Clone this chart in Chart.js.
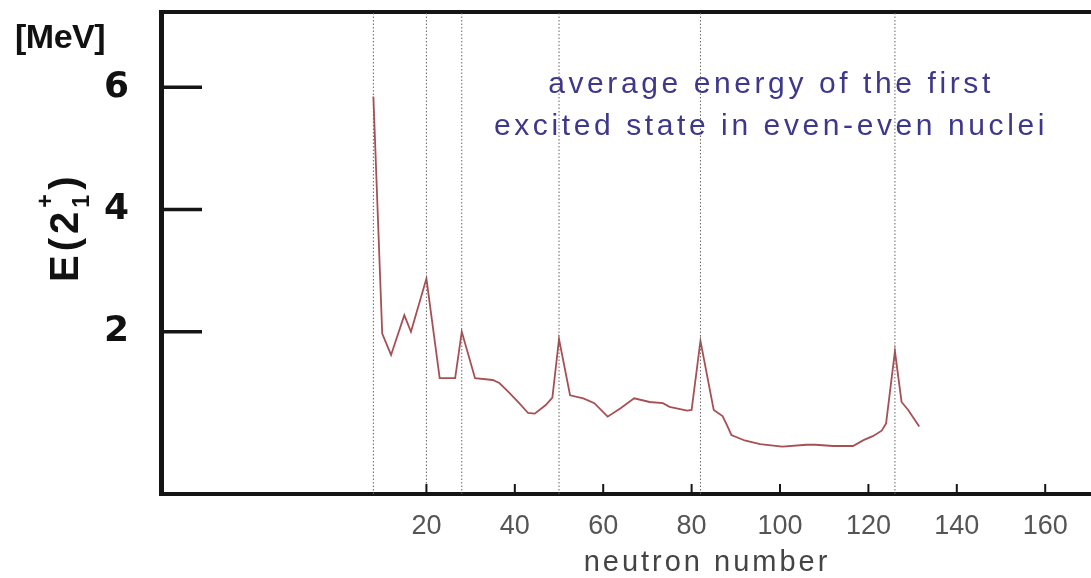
<!DOCTYPE html>
<html>
<head>
<meta charset="utf-8">
<script src="https://cdn.jsdelivr.net/npm/chart.js@4/dist/chart.umd.min.js"></script>
<style>
  body { margin: 0; background: #fff; overflow: hidden; }
  #wrap { position: relative; width: 1091px; height: 578px; }
  .txt { position: absolute; font-family: "Liberation Sans", Arial, sans-serif; white-space: nowrap; line-height: 1; }
  #mev { left: 15px; top: 19px; font-size: 34px; font-weight: bold; letter-spacing: -0.5px; color: #111; }
  #note { left: 771px; top: 62px; transform: translateX(-50%); text-align: center; font-size: 30px;
          line-height: 42px; letter-spacing: 3.6px; color: #3d388c; }
  #xlab { left: 707px; top: 547px; transform: translateX(-50%); font-size: 29px; letter-spacing: 3px; color: #444; }
  #ylab { left: 44px; top: 282px; transform-origin: 0 0; transform: rotate(-90deg); font-size: 40px;
          font-weight: bold; letter-spacing: 4px; color: #111; }
  #ylab .ss { display: inline-block; position: relative; width: 0.45em; height: 0.5em; }
  #ylab .ss span { position: absolute; left: 0; font-size: 0.58em; letter-spacing: 0; }
  #ylab .sup { bottom: 21px; }
  #ylab .sub { bottom: -15px; }
</style>
</head>
<body>
<div id="wrap">
  <canvas id="chart" width="1091" height="578"></canvas>
  <div class="txt" id="mev">[MeV]</div>
  <div class="txt" id="note">average energy of the first<br>excited state in even-even nuclei</div>
  <div class="txt" id="xlab">neutron number</div>
  <div class="txt" id="ylab">E(2<span class="ss"><span class="sup">+</span><span class="sub">1</span></span>)</div>
</div>
<script>
// average E(2+1) per neutron number
const neutronN = [8, 10, 12, 15, 16.5, 20, 23, 26.5, 28, 31, 35, 36.5, 38.5, 41, 43, 44.5, 47, 48.5, 50, 52.5,
  55.5, 58, 61, 64, 67, 70.5, 73.5, 75, 79, 80, 82, 85, 87, 88, 89, 92, 95.5, 100.5, 106, 108,
  112, 116.5, 119, 121, 123, 124, 126, 127.5, 129, 131.5];
const energyE = [5.85, 1.97, 1.62, 2.27, 2.0, 2.87, 1.24, 1.24, 2.0, 1.24, 1.21, 1.16, 1.02, 0.83, 0.67, 0.66, 0.8, 0.92, 1.88, 0.96,
  0.91, 0.83, 0.61, 0.75, 0.91, 0.85, 0.83, 0.77, 0.71, 0.72, 1.85, 0.72, 0.62, 0.47, 0.31, 0.22, 0.16, 0.12, 0.15, 0.15,
  0.13, 0.13, 0.23, 0.29, 0.38, 0.5, 1.68, 0.85, 0.72, 0.45];

// magic numbers (dotted lines)
const magicN = [8, 20, 28, 50, 82, 126];

const xTicks = [20, 40, 60, 80, 100, 120, 140, 160];
const yTicks = [2, 4, 6];

const xMin = -40.05, xMax = 170.36;
const yMin = -0.656, yMax = 7.233;

const frameColor = '#151515';

const curve = {
  data: neutronN.map((n, i) => ({ x: n, y: energyE[i] })),
  showLine: true,
  borderColor: '#a84f54',
  borderWidth: 1.8,
  pointRadius: 0,
  tension: 0
};

const magicLines = magicN.map(n => ({
  data: [{ x: n, y: yMin }, { x: n, y: yMax }],
  showLine: true,
  borderColor: '#666',
  borderWidth: 1,
  borderDash: [1.5, 2],
  pointRadius: 0
}));

// short tick marks pointing into the plot
const inwardTicks = {
  id: 'inwardTicks',
  afterDatasetsDraw(chart) {
    const { ctx, chartArea: a, scales: { x, y } } = chart;
    ctx.save();
    ctx.strokeStyle = frameColor;
    ctx.lineWidth = 3.5;
    yTicks.forEach(v => {
      const py = y.getPixelForValue(v);
      ctx.beginPath();
      ctx.moveTo(a.left, py);
      ctx.lineTo(a.left + 41, py);
      ctx.stroke();
    });
    ctx.lineWidth = 2;
    xTicks.forEach(v => {
      const px = x.getPixelForValue(v);
      ctx.beginPath();
      ctx.moveTo(px, a.bottom);
      ctx.lineTo(px, a.bottom - 10);
      ctx.stroke();
    });
    ctx.restore();
  }
};

function noPad(s) {
  s.paddingTop = 0; s.paddingBottom = 0; s.paddingLeft = 0; s.paddingRight = 0;
}

new Chart(document.getElementById('chart'), {
  type: 'scatter',
  data: { datasets: [...magicLines, curve] },
  options: {
    responsive: false,
    animation: false,
    layout: { padding: { top: 12, right: 0, bottom: 0, left: 0 } },
    plugins: { legend: { display: false }, tooltip: { enabled: false } },
    scales: {
      x: {
        type: 'linear', position: 'bottom', min: xMin, max: xMax,
        afterBuildTicks: s => { s.ticks = xTicks.map(v => ({ value: v })); },
        afterFit: s => { s.height = 84; noPad(s); },
        grid: { display: false },
        border: { display: true, color: frameColor, width: 4 },
        ticks: { color: '#555', padding: 8, autoSkip: false, maxRotation: 0,
                 font: { family: '"Liberation Sans", Arial, sans-serif', size: 27 } }
      },
      xTop: {
        type: 'linear', position: 'top', min: xMin, max: xMax,
        afterFit: s => { s.height = 0; noPad(s); },
        grid: { display: false },
        border: { display: true, color: frameColor, width: 4 },
        ticks: { display: false }
      },
      y: {
        type: 'linear', position: 'left', min: yMin, max: yMax,
        afterBuildTicks: s => { s.ticks = yTicks.map(v => ({ value: v })); },
        afterFit: s => { s.width = 161; noPad(s); },
        grid: { display: false },
        border: { display: true, color: frameColor, width: 5 },
        ticks: { color: '#111', padding: 24,
                 font: { family: '"DejaVu Sans", sans-serif', size: 36, weight: 'bold' } }
      }
    }
  },
  plugins: [inwardTicks]
});
</script>
</body>
</html>
